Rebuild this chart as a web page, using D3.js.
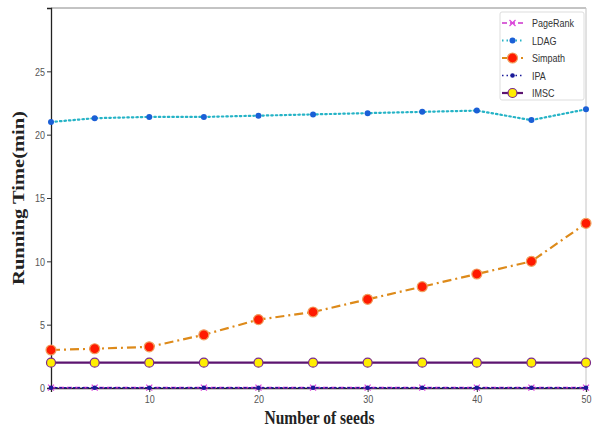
<!DOCTYPE html>
<html>
<head>
<meta charset="utf-8">
<script src="https://cdn.jsdelivr.net/npm/d3@7"></script>
<style>
  html, body { margin: 0; padding: 0; background: #fff; }
  svg { display: block; }
</style>
</head>
<body>
<svg id="chart" width="592" height="429"></svg>
<script>
// Number of seeds
const seeds = [1, 5, 10, 15, 20, 25, 30, 35, 40, 45, 50];

// Running time (minutes) per algorithm
const pageRank = [0.03, 0.03, 0.03, 0.03, 0.03, 0.03, 0.03, 0.03, 0.03, 0.03, 0.03];
const ldag     = [21.0, 21.3, 21.4, 21.4, 21.5, 21.6, 21.7, 21.8, 21.9, 21.15, 22.0];
const simpath  = [3.0, 3.1, 3.25, 4.2, 5.4, 6.0, 7.0, 8.0, 9.0, 10.0, 13.0];
const ipa      = [0.02, 0.02, 0.02, 0.02, 0.02, 0.02, 0.02, 0.02, 0.02, 0.02, 0.02];
const imsc     = [2.0, 2.0, 2.0, 2.0, 2.0, 2.0, 2.0, 2.0, 2.0, 2.0, 2.0];

const seriesNames = ["PageRank", "LDAG", "Simpath", "IPA", "IMSC"];
const xTicks = [10, 20, 30, 40, 50];
const yTicks = [0, 5, 10, 15, 20, 25];

const series = [
  { name: "PageRank", values: pageRank, color: "#cc33cc", width: 1.6, dash: "5,3", marker: "x", mColor: "#dd44dd" },
  { name: "LDAG", values: ldag, color: "#25b3c6", width: 2.2, dash: "1.5,3", marker: "dot", mColor: "#1a5fd6", r: 3 },
  { name: "Simpath", values: simpath, color: "#dd8a1a", width: 2.2, dash: "9,4,2,4", marker: "circle", mColor: "#ff1a00", stroke: "#f0a060", r: 5 },
  { name: "IPA", values: ipa, color: "#1a1a99", width: 1.6, dash: "1.5,3", marker: "dot", mColor: "#1a1a99", r: 2.3 },
  { name: "IMSC", values: imsc, color: "#5c1470", width: 2.2, dash: null, marker: "circle", mColor: "#ffee00", stroke: "#7a2a8a", r: 4.5 }
];

const svg = d3.select("#chart");
const m = { left: 51, right: 6, top: 8, bottom: 41 };
const W = 592, H = 429;
const stretch = 1.28; // text is drawn taller than wide

const x = d3.scaleLinear().domain([1, 50]).range([m.left, W - m.right]);
const y = d3.scaleLinear().domain([0, 30]).range([H - m.bottom, m.top]);

const tickFont = "'Liberation Sans', Arial, sans-serif";

// frame
svg.append("line").attr("x1", m.left).attr("x2", x(50)).attr("y1", m.top).attr("y2", m.top)
  .attr("stroke", "#888");
svg.append("line").attr("x1", x(50)).attr("x2", x(50)).attr("y1", m.top).attr("y2", y(0))
  .attr("stroke", "#c4c4c4");

// axes
const xAxis = svg.append("g")
  .attr("transform", `translate(0,${y(0)})`)
  .call(d3.axisBottom(x).tickValues(xTicks).tickSize(4).tickFormat(d3.format("d")));
const yAxis = svg.append("g")
  .attr("transform", `translate(${m.left},0)`)
  .call(d3.axisLeft(y).tickValues(yTicks).tickSize(4).tickFormat(d3.format("d")));

[xAxis, yAxis].forEach(g => {
  g.select(".domain").attr("stroke", "#222").attr("stroke-width", 1.3);
  g.selectAll(".tick line").attr("stroke", "#333");
  g.selectAll(".tick text").attr("fill", "#555").style("font-family", tickFont).style("font-size", "9px");
});
xAxis.selectAll(".tick text")
  .attr("y", 0).attr("dy", "0.71em")
  .attr("transform", `translate(0,7) scale(1,${stretch})`);
yAxis.selectAll(".tick text")
  .attr("x", -6).attr("dy", "0.34em")
  .attr("transform", `scale(1,${stretch})`)
  .attr("y", 0);

// lines and markers
const line = d3.line().x((d, i) => x(seeds[i])).y(d => y(d));

series.forEach(s => {
  svg.append("path")
    .datum(s.values)
    .attr("d", line)
    .attr("fill", "none")
    .attr("stroke", s.color)
    .attr("stroke-width", s.width)
    .attr("stroke-dasharray", s.dash)
    .attr("stroke-linecap", s.dash && s.dash.startsWith("1.5") ? "round" : "butt");
});

function drawMarker(g, s, cx, cy) {
  if (s.marker === "x") {
    const k = 3;
    g.append("path")
      .attr("d", `M${cx - k},${cy - k}L${cx + k},${cy + k}M${cx - k},${cy + k}L${cx + k},${cy - k}`)
      .attr("stroke", s.mColor).attr("stroke-width", 1.2).attr("fill", "none");
  } else if (s.marker === "dot") {
    g.append("circle").attr("cx", cx).attr("cy", cy).attr("r", s.r).attr("fill", s.mColor);
  } else {
    g.append("circle").attr("cx", cx).attr("cy", cy).attr("r", s.r)
      .attr("fill", s.mColor).attr("stroke", s.stroke).attr("stroke-width", 1.2);
  }
}

series.forEach(s => {
  const g = svg.append("g");
  s.values.forEach((v, i) => drawMarker(g, s, x(seeds[i]), y(v)));
});

// legend
const lg = svg.append("g");
lg.append("rect")
  .attr("x", 500).attr("y", 12).attr("width", 84).attr("height", 88)
  .attr("rx", 2).attr("fill", "#fff").attr("stroke", "#ddd");
seriesNames.forEach((name, i) => {
  const s = series.find(d => d.name === name);
  const ly = 23 + i * 17.5;
  lg.append("line")
    .attr("x1", 502).attr("x2", 523).attr("y1", ly).attr("y2", ly)
    .attr("stroke", s.color).attr("stroke-width", s.width)
    .attr("stroke-dasharray", s.dash);
  drawMarker(lg, s, 512.5, ly);
  lg.append("text")
    .attr("transform", `translate(532,${ly}) scale(1,${stretch})`)
    .attr("dy", "0.35em")
    .attr("fill", "#333")
    .style("font-family", tickFont).style("font-size", "9px")
    .text(name);
});

// axis titles
svg.append("text")
  .attr("transform", `translate(${(m.left + x(50)) / 2 + 1},424) scale(1,${stretch})`)
  .attr("text-anchor", "middle")
  .style("font-family", "'Liberation Serif', 'Times New Roman', serif")
  .style("font-weight", "bold").style("font-size", "15.5px")
  .attr("fill", "#222")
  .text("Number of seeds");

svg.append("text")
  .attr("transform", `translate(24,${(m.top + y(0)) / 2}) rotate(-90) scale(${stretch},1)`)
  .attr("text-anchor", "middle")
  .style("font-family", "'Liberation Serif', 'Times New Roman', serif")
  .style("font-weight", "bold").style("font-size", "16px")
  .attr("fill", "#222")
  .text("Running Time(min)");
</script>
</body>
</html>
